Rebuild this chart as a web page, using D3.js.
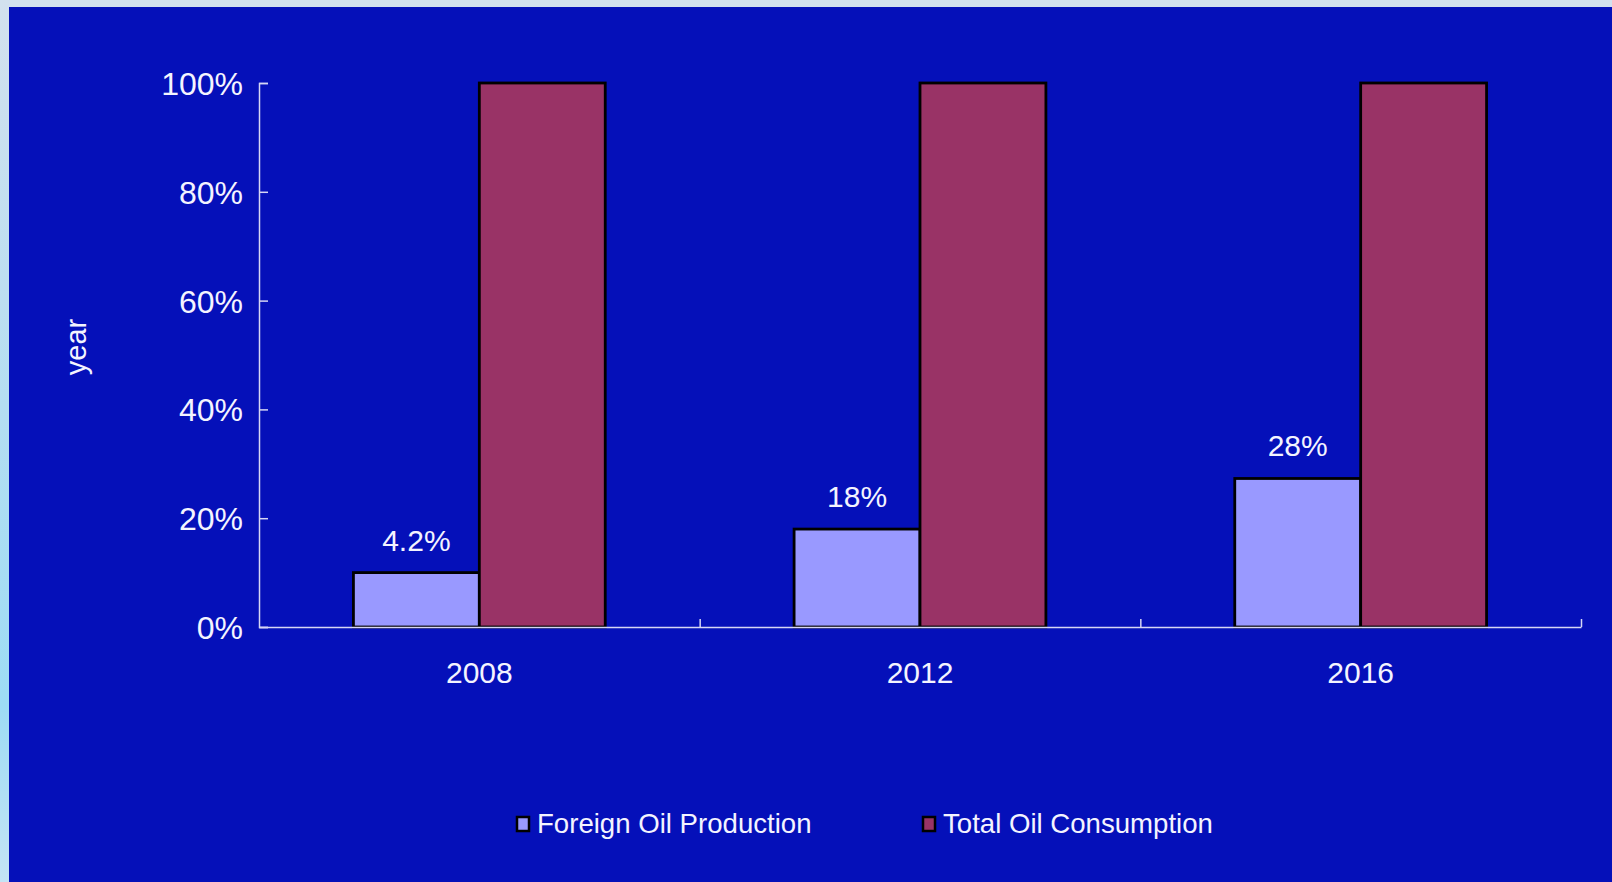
<!DOCTYPE html>
<html>
<head>
<meta charset="utf-8">
<script src="https://cdn.jsdelivr.net/npm/d3@7/dist/d3.min.js"></script>
<style>
    html, body { margin: 0; padding: 0; background: #d3e1ee; }
    svg { display: block; }
    text { font-family: "Liberation Sans", Arial, sans-serif; fill: #f4f4ff; }
    .axis path, .axis line { stroke: #d6d6f4; stroke-width: 1.5; }
    .axis text { font-size: 30px; }
    .axis--y text { font-size: 32px; }
</style>
</head>
<body>
<div id="chart"></div>
<script>
var years = ["2008", "2012", "2016"];
var seriesNames = ["Foreign Oil Production", "Total Oil Consumption"];
var foreignValues = [10, 18, 27.3];
var totalValues = [100, 100, 100];
var foreignLabels = ["4.2%", "18%", "28%"];
var yTickValues = [0, 20, 40, 60, 80, 100];
var axisTitle = "year";

var colors = ["#9999ff", "#993366"];

var W = 1612, H = 882;

var svg = d3.select("#chart").append("svg")
    .attr("width", W)
    .attr("height", H);

// light frame: top strip and a gradient strip on the left
var grad = svg.append("defs").append("linearGradient")
    .attr("id", "leftStrip")
    .attr("x1", 0).attr("y1", 0).attr("x2", 0).attr("y2", 1);
grad.append("stop").attr("offset", "0%").attr("stop-color", "#d3e1ee");
grad.append("stop").attr("offset", "80%").attr("stop-color", "#9ddcf5");
grad.append("stop").attr("offset", "100%").attr("stop-color", "#c4e4f5");

svg.append("rect").attr("x", 0).attr("y", 0).attr("width", W).attr("height", H).attr("fill", "#d3e1ee");
svg.append("rect").attr("x", 0).attr("y", 0).attr("width", 9).attr("height", H).attr("fill", "url(#leftStrip)");
svg.append("rect").attr("x", 9).attr("y", 7).attr("width", W - 9).attr("height", H - 7).attr("fill", "#0510b9");

var margin = {top: 83, left: 259, right: 31, bottom: 255}
    , width = W - margin.left - margin.right
    , height = H - margin.top - margin.bottom
    , g = svg.append("g").attr("transform", "translate(" + margin.left + "," + margin.top + ")");

var x0 = d3.scaleBand()
    .domain(years)
    .range([0, width])
    .padding(0);

var x1 = d3.scaleBand()
    .domain(seriesNames)
    .range([0, x0.bandwidth()])
    .paddingInner(0)
    .paddingOuter(0.75);

var y = d3.scaleLinear()
    .domain([0, 100])
    .range([height, 0]);

var rows = years.map(function(yr, i) {
    return {year: yr, values: [foreignValues[i], totalValues[i]], label: foreignLabels[i]};
});

// bars
var groups = g.append("g")
    .attr("class", "bars")
    .selectAll("g")
    .data(rows)
    .enter().append("g")
    .attr("transform", d => "translate(" + x0(d.year) + ",0)");

groups.selectAll("rect")
    .data(d => d.values.map((v, i) => ({name: seriesNames[i], v: v, i: i})))
    .enter().append("rect")
    .attr("x", d => x1(d.name))
    .attr("y", d => y(d.v))
    .attr("width", x1.bandwidth())
    .attr("height", d => y(0) - y(d.v))
    .attr("fill", d => colors[d.i])
    .attr("stroke", "#000")
    .attr("stroke-width", 2.8);

// value labels above the foreign bars
groups.append("text")
    .attr("x", x1(seriesNames[0]) + x1.bandwidth() / 2)
    .attr("y", d => y(d.values[0]) - 22)
    .attr("text-anchor", "middle")
    .style("font-size", "30px")
    .style("font-weight", "300")
    .text(d => d.label);

// y axis
var yAxis = d3.axisLeft(y)
    .tickValues(yTickValues)
    .tickSizeInner(-9)
    .tickSizeOuter(-9)
    .tickPadding(16)
    .tickFormat(d => d + "%");

var yG = g.append("g")
    .attr("class", "axis axis--y")
    .call(yAxis);
yG.selectAll("text").attr("dy", "0.36em");

// x axis: ticks on category boundaries, labels at centres
var xb = d3.scaleLinear().domain([0, years.length]).range([0, width]);
var xAxis = d3.axisBottom(xb)
    .tickValues(d3.range(1, years.length + 1))
    .tickSizeInner(-8)
    .tickSizeOuter(0)
    .tickFormat("");

g.append("g")
    .attr("class", "axis axis--x")
    .attr("transform", "translate(0," + height + ")")
    .call(xAxis);

g.append("g")
    .attr("class", "axis axis--xlabels")
    .selectAll("text")
    .data(years)
    .enter().append("text")
    .attr("x", d => x0(d) + x0.bandwidth() / 2)
    .attr("y", height + 56)
    .attr("text-anchor", "middle")
    .text(d => d);

// axis title
svg.append("text")
    .attr("transform", "translate(86,347) rotate(-90)")
    .attr("text-anchor", "middle")
    .style("font-size", "29px")
    .text(axisTitle);

// legend
var legendX = [517, 923];
var legend = svg.append("g")
    .attr("class", "legend")
    .selectAll("g")
    .data(seriesNames)
    .enter().append("g")
    .attr("transform", (d, i) => "translate(" + legendX[i] + ",817)");

legend.append("rect")
    .attr("width", 12)
    .attr("height", 14)
    .attr("fill", (d, i) => colors[i])
    .attr("stroke", "#000")
    .attr("stroke-width", 2.5);

legend.append("text")
    .attr("x", 20)
    .attr("y", 16)
    .style("font-size", "27.6px")
    .text(d => d);
</script>
</body>
</html>
